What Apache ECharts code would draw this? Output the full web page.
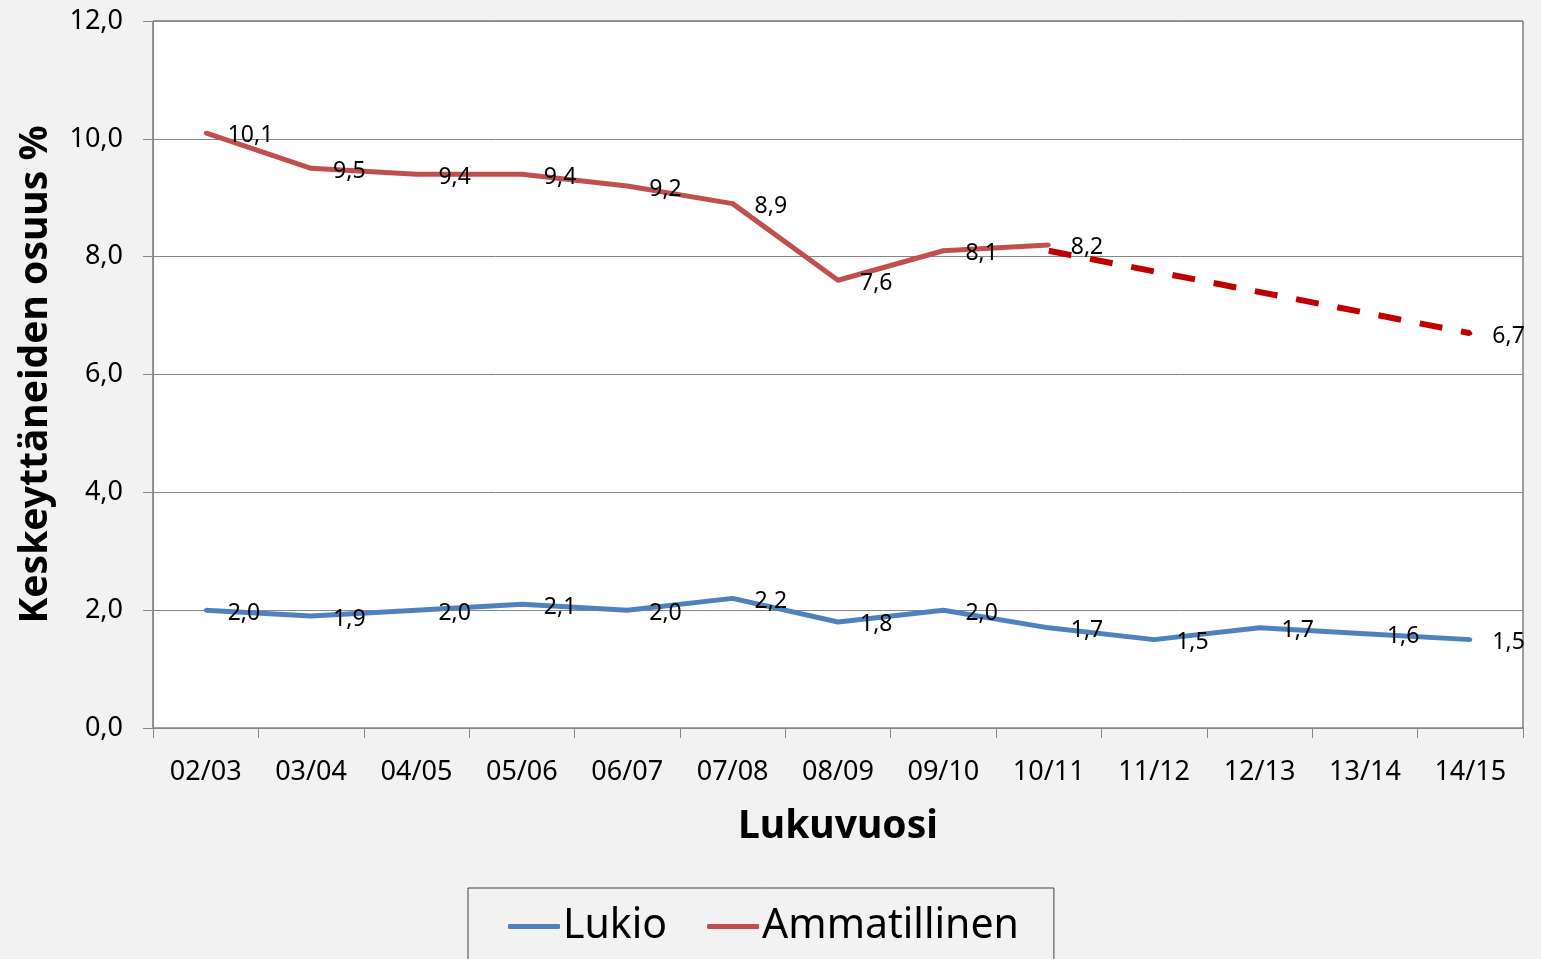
<!DOCTYPE html>
<html>
<head>
<meta charset="utf-8">
<title>Keskeyttäneiden osuus</title>
<script src="https://cdn.jsdelivr.net/npm/echarts@6/dist/echarts.min.js"></script>
<style>
  html, body { margin: 0; padding: 0; background: #f2f2f2; }
  #chart { width: 1541px; height: 959px; }
</style>
</head>
<body>
<div id="chart"></div>
<script>
// lukuvuodet
var years = ['02/03', '03/04', '04/05', '05/06', '06/07', '07/08', '08/09', '09/10', '10/11', '11/12', '12/13', '13/14', '14/15'];

// keskeyttäneiden osuus %
var lukio = [2.0, 1.9, 2.0, 2.1, 2.0, 2.2, 1.8, 2.0, 1.7, 1.5, 1.7, 1.6, 1.5];
var ammatillinen = [10.1, 9.5, 9.4, 9.4, 9.2, 8.9, 7.6, 8.1, 8.2, null, null, null, null];
// ennuste (katkoviiva)
var ammatillinenEnnuste = [null, null, null, null, null, null, null, null, 8.1, null, null, null, 6.7];

var fontFamily = '"Noto Sans", sans-serif';

function fmt(v) {
    return v.toFixed(1).replace('.', ',');
}

var chart = echarts.init(document.getElementById('chart'));

var labelStyle = {
    show: true,
    position: 'right',
    distance: 20,
    offset: [0, 3],
    color: '#000',
    fontSize: 23,
    fontFamily: fontFamily,
    formatter: function (p) { return fmt(p.value); }
};

var option = {
    backgroundColor: '#f2f2f2',
    animation: false,
    grid: {
        left: 153,
        right: 18,
        top: 21,
        bottom: 231,
        show: true,
        backgroundColor: '#ffffff',
        borderColor: '#404040',
        borderWidth: 1
    },
    legend: {
        data: [
            { name: 'Lukio', itemStyle: { color: '#4f81bd' } },
            { name: 'Ammatillinen', itemStyle: { color: '#c0504d' } }
        ],
        left: 468,
        top: 888,
        orient: 'horizontal',
        icon: 'roundRect',
        backgroundColor: '#f2f2f2',
        borderColor: '#404040',
        borderWidth: 1,
        padding: [18, 35, 40, 40],
        itemWidth: 52,
        itemHeight: 5,
        itemGap: 40,
        textStyle: {
            color: '#000',
            fontSize: 41,
            fontFamily: fontFamily,
            padding: [0, 0, 0, -2]
        }
    },
    xAxis: {
        type: 'category',
        data: years,
        boundaryGap: true,
        name: 'Lukuvuosi',
        nameLocation: 'middle',
        nameGap: 79,
        nameTextStyle: {
            color: '#000',
            fontSize: 39,
            fontWeight: 'bold',
            fontFamily: fontFamily
        },
        axisLine: { lineStyle: { color: '#868686', width: 1 } },
        axisTick: { show: true, length: 10, lineStyle: { color: '#868686' } },
        axisLabel: {
            color: '#000',
            fontSize: 27,
            fontFamily: fontFamily,
            margin: 31
        }
    },
    yAxis: {
        type: 'value',
        min: 0,
        max: 12,
        interval: 2,
        name: 'Keskeyttäneiden osuus %',
        nameLocation: 'middle',
        nameGap: 98,
        nameRotate: 90,
        nameTextStyle: {
            color: '#000',
            fontSize: 39,
            fontWeight: 'bold',
            fontFamily: fontFamily
        },
        axisLine: { show: true, lineStyle: { color: '#868686', width: 1 } },
        axisTick: { show: true, length: 10, lineStyle: { color: '#868686' } },
        splitLine: { lineStyle: { color: '#868686', width: 1 } },
        axisLabel: {
            color: '#000',
            fontSize: 27,
            fontFamily: fontFamily,
            margin: 30,
            formatter: function (v) { return fmt(v); }
        }
    },
    series: [
        {
            name: 'Lukio',
            type: 'line',
            data: lukio,
            symbol: 'circle',
            symbolSize: 4,
            color: '#4f81bd',
            lineStyle: { color: '#4f81bd', width: 5 },
            label: labelStyle,
            z: 3
        },
        {
            name: 'Ammatillinen',
            type: 'line',
            data: ammatillinen,
            symbol: 'circle',
            symbolSize: 4,
            color: '#c0504d',
            lineStyle: { color: '#c0504d', width: 5 },
            label: labelStyle,
            z: 3
        },
        {
            name: 'Ennuste',
            type: 'line',
            data: ammatillinenEnnuste,
            connectNulls: true,
            symbol: 'none',
            color: '#c00000',
            lineStyle: { color: '#c00000', width: 6, type: [23, 19] },
            z: 2
        },
        {
            // ennusteen loppuarvon nimiö
            name: 'EnnusteNimio',
            type: 'line',
            data: ammatillinenEnnuste.map(function (v, i) { return i === ammatillinenEnnuste.length - 1 ? v : null; }),
            symbol: 'circle',
            symbolSize: 4,
            color: '#c00000',
            lineStyle: { width: 0 },
            label: labelStyle,
            z: 3
        }
    ]
};

chart.setOption(option);
</script>
</body>
</html>
